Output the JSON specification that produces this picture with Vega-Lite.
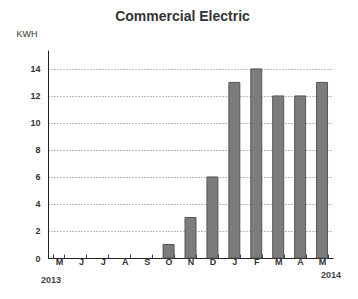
{
  "$schema": "https://vega.github.io/schema/vega-lite/v6.json",
  "autosize": "none",
  "width": 285,
  "height": 208,
  "padding": {"left": 48, "top": 50, "right": 25, "bottom": 41},
  "background": "white",
  "config": {
    "font": "Liberation Sans",
    "view": {"stroke": null}
  },
  "title": {
    "text": "Commercial Electric",
    "fontSize": 14,
    "fontWeight": "bold",
    "color": "#333",
    "offset": 5,
    "dx": -8
  },
  "resolve": {"axis": {"y": "independent"}},
  "data": {
    "values": [
      {"month": "01M", "kwh": 0},
      {"month": "02J", "kwh": 0},
      {"month": "03J", "kwh": 0},
      {"month": "04A", "kwh": 0},
      {"month": "05S", "kwh": 0},
      {"month": "06O", "kwh": 1},
      {"month": "07N", "kwh": 3},
      {"month": "08D", "kwh": 6},
      {"month": "09J", "kwh": 13},
      {"month": "10F", "kwh": 14},
      {"month": "11M", "kwh": 12},
      {"month": "12A", "kwh": 12},
      {"month": "13M", "kwh": 13}
    ]
  },
  "encoding": {
    "x": {
      "field": "month",
      "type": "ordinal",
      "sort": null,
      "scale": {"paddingInner": 0.5, "paddingOuter": 0.25},
      "axis": {
        "title": null,
        "labelAngle": 0,
        "labelExpr": "substring(datum.label, 2)",
        "labelFontSize": 9,
        "labelFontWeight": "bold",
        "labelColor": "#333",
        "labelPadding": 3,
        "domainColor": "#222",
        "tickColor": "#444",
        "tickBand": "extent",
        "tickSize": -4,
        "grid": false
      }
    }
  },
  "layer": [
    {
      "mark": {"type": "bar", "fill": "#7c7c7c", "stroke": "#555", "strokeWidth": 1},
      "encoding": {
        "strokeOpacity": {"condition": {"test": "datum.kwh == 0", "value": 0}, "value": 1},
        "y": {
          "field": "kwh",
          "type": "quantitative",
          "scale": {"domain": [0, 15.4], "nice": false},
          "axis": {
            "values": [0, 2, 4, 6, 8, 10, 12, 14],
            "labelOverlap": false,
            "title": "KWH",
            "titleAngle": 0,
            "titleAlign": "left",
            "titleBaseline": "middle",
            "titleX": -32,
            "titleY": -17,
            "titleFontSize": 9,
            "titleFontWeight": "normal",
            "titleColor": "#333",
            "labelFontSize": 9,
            "labelFontWeight": "bold",
            "labelColor": "#333",
            "labelPadding": 8,
            "ticks": false,
            "domainColor": "#222",
            "gridColor": "#777",
            "gridDash": [1, 2],
            "gridWidth": 1
          }
        }
      }
    },
    {
      "data": {"values": [{"month": "01M", "year": "2013"}]},
      "mark": {"type": "text", "fontSize": 9, "fontWeight": "bold", "color": "#444", "dx": -8, "clip": false},
      "encoding": {
        "y": {"datum": -1.6, "type": "quantitative", "axis": null},
        "text": {"field": "year"}
      }
    },
    {
      "data": {"values": [{"month": "13M", "year": "2014"}]},
      "mark": {"type": "text", "fontSize": 9, "fontWeight": "bold", "color": "#444", "dx": 9, "clip": false},
      "encoding": {
        "y": {"datum": -1.25, "type": "quantitative", "axis": null},
        "text": {"field": "year"}
      }
    }
  ]
}
